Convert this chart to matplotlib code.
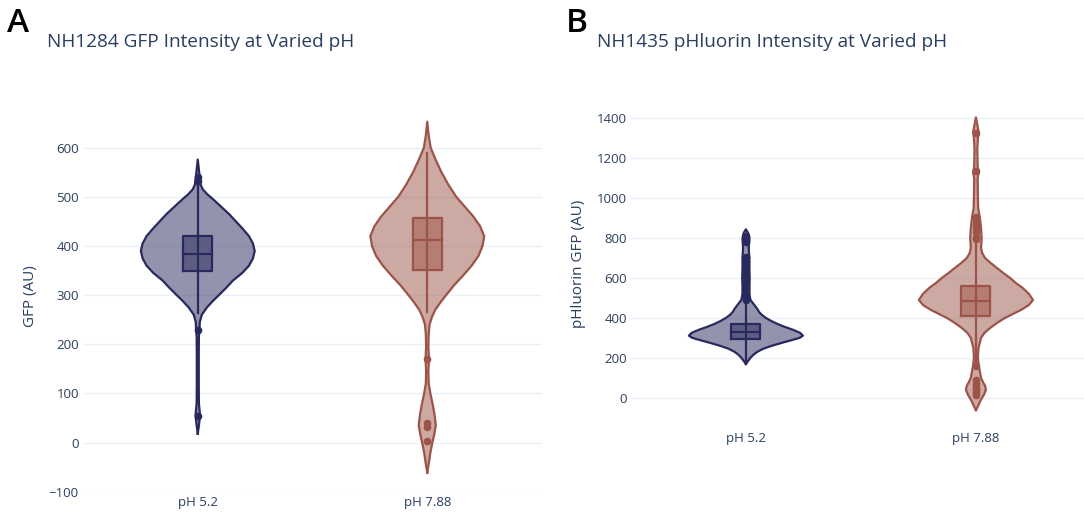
# violin plots of GFP / pHluorin intensity at two pH values
import matplotlib.pyplot as plt
import numpy as np

plt.rcParams['font.family'] = ['Open Sans', 'DejaVu Sans']

groups = ['pH 5.2', 'pH 7.88']

# ---- panel A: NH1284 GFP ----
# violin outline: value and relative density (1 = widest)
a52_y = [18, 35, 55, 80, 120, 180, 215, 230, 245, 260, 275, 290, 300, 315, 330, 345, 360,
         375, 390, 405, 420, 435, 450, 465, 480, 495, 505, 515, 525, 540, 555, 576]
a52_d = [0, 0.02, 0.04, 0.02, 0.017, 0.017, 0.02, 0.03, 0.035, 0.07, 0.16, 0.28, 0.37, 0.5,
         0.62, 0.78, 0.9, 0.97, 1.0, 0.97, 0.9, 0.79, 0.67, 0.55, 0.41, 0.27, 0.17, 0.09,
         0.05, 0.035, 0.02, 0]
a788_y = [-61, -40, -20, 0, 15, 35, 55, 75, 100, 120, 145, 170, 195, 220, 240, 255, 270, 285,
          300, 320, 340, 360, 380, 400, 420, 440, 460, 480, 500, 525, 550, 575, 600, 625, 653]
a788_d = [0, 0.03, 0.055, 0.09, 0.12, 0.15, 0.13, 0.1, 0.055, 0.025, 0.02, 0.03, 0.02, 0.025,
          0.04, 0.08, 0.14, 0.23, 0.33, 0.47, 0.63, 0.78, 0.9, 0.97, 1.0, 0.93, 0.81, 0.66,
          0.51, 0.37, 0.25, 0.15, 0.06, 0.025, 0]
# box: whisker low, q1, median, q3, whisker high
a52_box = [263, 349, 384, 420, 527]
a788_box = [265, 352, 412, 457, 590]
a52_out = [533, 540, 230, 55]
a788_out = [170, 40, 32, 3]

# ---- panel B: NH1435 pHluorin ----
b52_y = [169, 185, 200, 215, 230, 245, 260, 275, 290, 300, 311, 325, 340, 355, 370, 385, 400,
         415, 430, 445, 460, 475, 490, 520, 560, 600, 650, 700, 750, 800, 825, 844]
b52_d = [0, 0.04, 0.08, 0.13, 0.2, 0.3, 0.45, 0.63, 0.82, 0.94, 1.0, 0.95, 0.83, 0.68, 0.55,
         0.44, 0.35, 0.28, 0.23, 0.2, 0.16, 0.12, 0.08, 0.06, 0.06, 0.065, 0.06, 0.06, 0.05,
         0.06, 0.04, 0]
b788_y = [-62, -40, -20, 0, 15, 40, 60, 80, 100, 130, 160, 200, 250, 300, 325, 350, 375, 400,
          420, 440, 465, 490, 520, 550, 575, 600, 625, 650, 675, 700, 725, 750, 800, 850, 900,
          950, 1000, 1100, 1130, 1160, 1250, 1300, 1330, 1360, 1405]
b788_d = [0, 0.04, 0.07, 0.11, 0.14, 0.175, 0.16, 0.12, 0.09, 0.07, 0.05, 0.035, 0.045, 0.09,
          0.15, 0.25, 0.37, 0.51, 0.65, 0.79, 0.93, 1.0, 0.93, 0.82, 0.7, 0.6, 0.48, 0.37,
          0.26, 0.16, 0.11, 0.09, 0.1, 0.09, 0.07, 0.04, 0.035, 0.03, 0.05, 0.03, 0.025, 0.035,
          0.05, 0.03, 0]
b52_box = [185, 294, 330, 368, 485]
b788_box = [180, 410, 485, 560, 785]
b52_out = [490, 498, 505, 512, 520, 530, 540, 550, 560, 570, 580, 590, 600, 612, 625, 640,
           655, 670, 685, 700, 706, 780, 790, 800, 812]
b788_out = [1325, 1135, 905, 890, 870, 850, 830, 805, 795, 160, 90, 70, 55, 45, 35, 25, 15]

navy = '#28295c'
brown = '#9c5448'
text_col = '#2a3f5f'
grid_col = '#ebf0f8'
half_w = 0.248      # widest half-width of a violin (category units)
box_w = 0.063


def violin(ax, pos, ys, dens, box, outl, color):
    ys = np.array(ys)
    w = np.array(dens) * half_w
    ax.fill_betweenx(ys, pos - w, pos + w, color=color, alpha=0.5, lw=0, zorder=2)
    xs = np.concatenate([pos - w, (pos + w)[::-1]])
    yy = np.concatenate([ys, ys[::-1]])
    ax.plot(xs, yy, color=color, lw=1.6, solid_joinstyle='round', zorder=3)
    # whisker line
    ax.plot([pos, pos], [box[0], box[4]], color=color, lw=1.6, zorder=3)
    # box
    ax.fill_between([pos - box_w, pos + box_w], box[1], box[3], color=color, alpha=0.5,
                    lw=0, zorder=4)
    ax.plot([pos - box_w, pos + box_w, pos + box_w, pos - box_w, pos - box_w],
            [box[1], box[1], box[3], box[3], box[1]], color=color, lw=1.6, zorder=5)
    ax.plot([pos - box_w, pos + box_w], [box[2], box[2]], color=color, lw=1.6, zorder=5)
    ax.plot([pos] * len(outl), outl, 'o', color=color, ms=5.5, mew=0, zorder=6)


def style(ax, ylim, ticks, ylabel):
    ax.set_xlim(-0.5, 1.5)
    ax.set_ylim(*ylim)
    ax.set_yticks(ticks)
    ax.set_xticks([0, 1])
    ax.set_xticklabels(groups)
    ax.grid(axis='y', color=grid_col, lw=1)
    ax.set_axisbelow(True)
    for s in ax.spines.values():
        s.set_visible(False)
    ax.tick_params(length=0, labelsize=9.5, labelcolor=text_col, pad=3)
    ax.set_ylabel(ylabel, fontsize=11, color=text_col)


fig = plt.figure(figsize=(10.84, 5.12), dpi=100)

ax1 = fig.add_axes([0.0766, 0.0396, 0.4234, 0.765])
violin(ax1, 0, a52_y, a52_d, a52_box, a52_out, navy)
violin(ax1, 1, a788_y, a788_d, a788_box, a788_out, brown)
style(ax1, (-100, 697), range(-100, 601, 100), 'GFP (AU)')
ax1.yaxis.set_label_coords(-0.099, 0.5)

ax2 = fig.add_axes([0.582, 0.164, 0.4244, 0.6406])
violin(ax2, 0, b52_y, b52_d, b52_box, b52_out, navy)
violin(ax2, 1, b788_y, b788_d, b788_box, b788_out, brown)
style(ax2, (-152, 1492), range(0, 1401, 200), 'pHluorin GFP (AU)')
ax2.yaxis.set_label_coords(-0.098, 0.5)

fig.text(47 / 1084, 1 - 42 / 512, 'NH1284 GFP Intensity at Varied pH', fontsize=13.7,
         color=text_col, va='center', ha='left')
fig.text(597 / 1084, 1 - 42 / 512, 'NH1435 pHluorin Intensity at Varied pH', fontsize=13.7,
         color=text_col, va='center', ha='left')
fig.text(7 / 1084, 1 - 23 / 512, 'A', fontsize=24, fontweight='semibold', color='black',
         va='center', ha='left')
fig.text(566 / 1084, 1 - 23 / 512, 'B', fontsize=24, fontweight='semibold', color='black',
         va='center', ha='left')

fig.savefig('out.png', dpi=100)
